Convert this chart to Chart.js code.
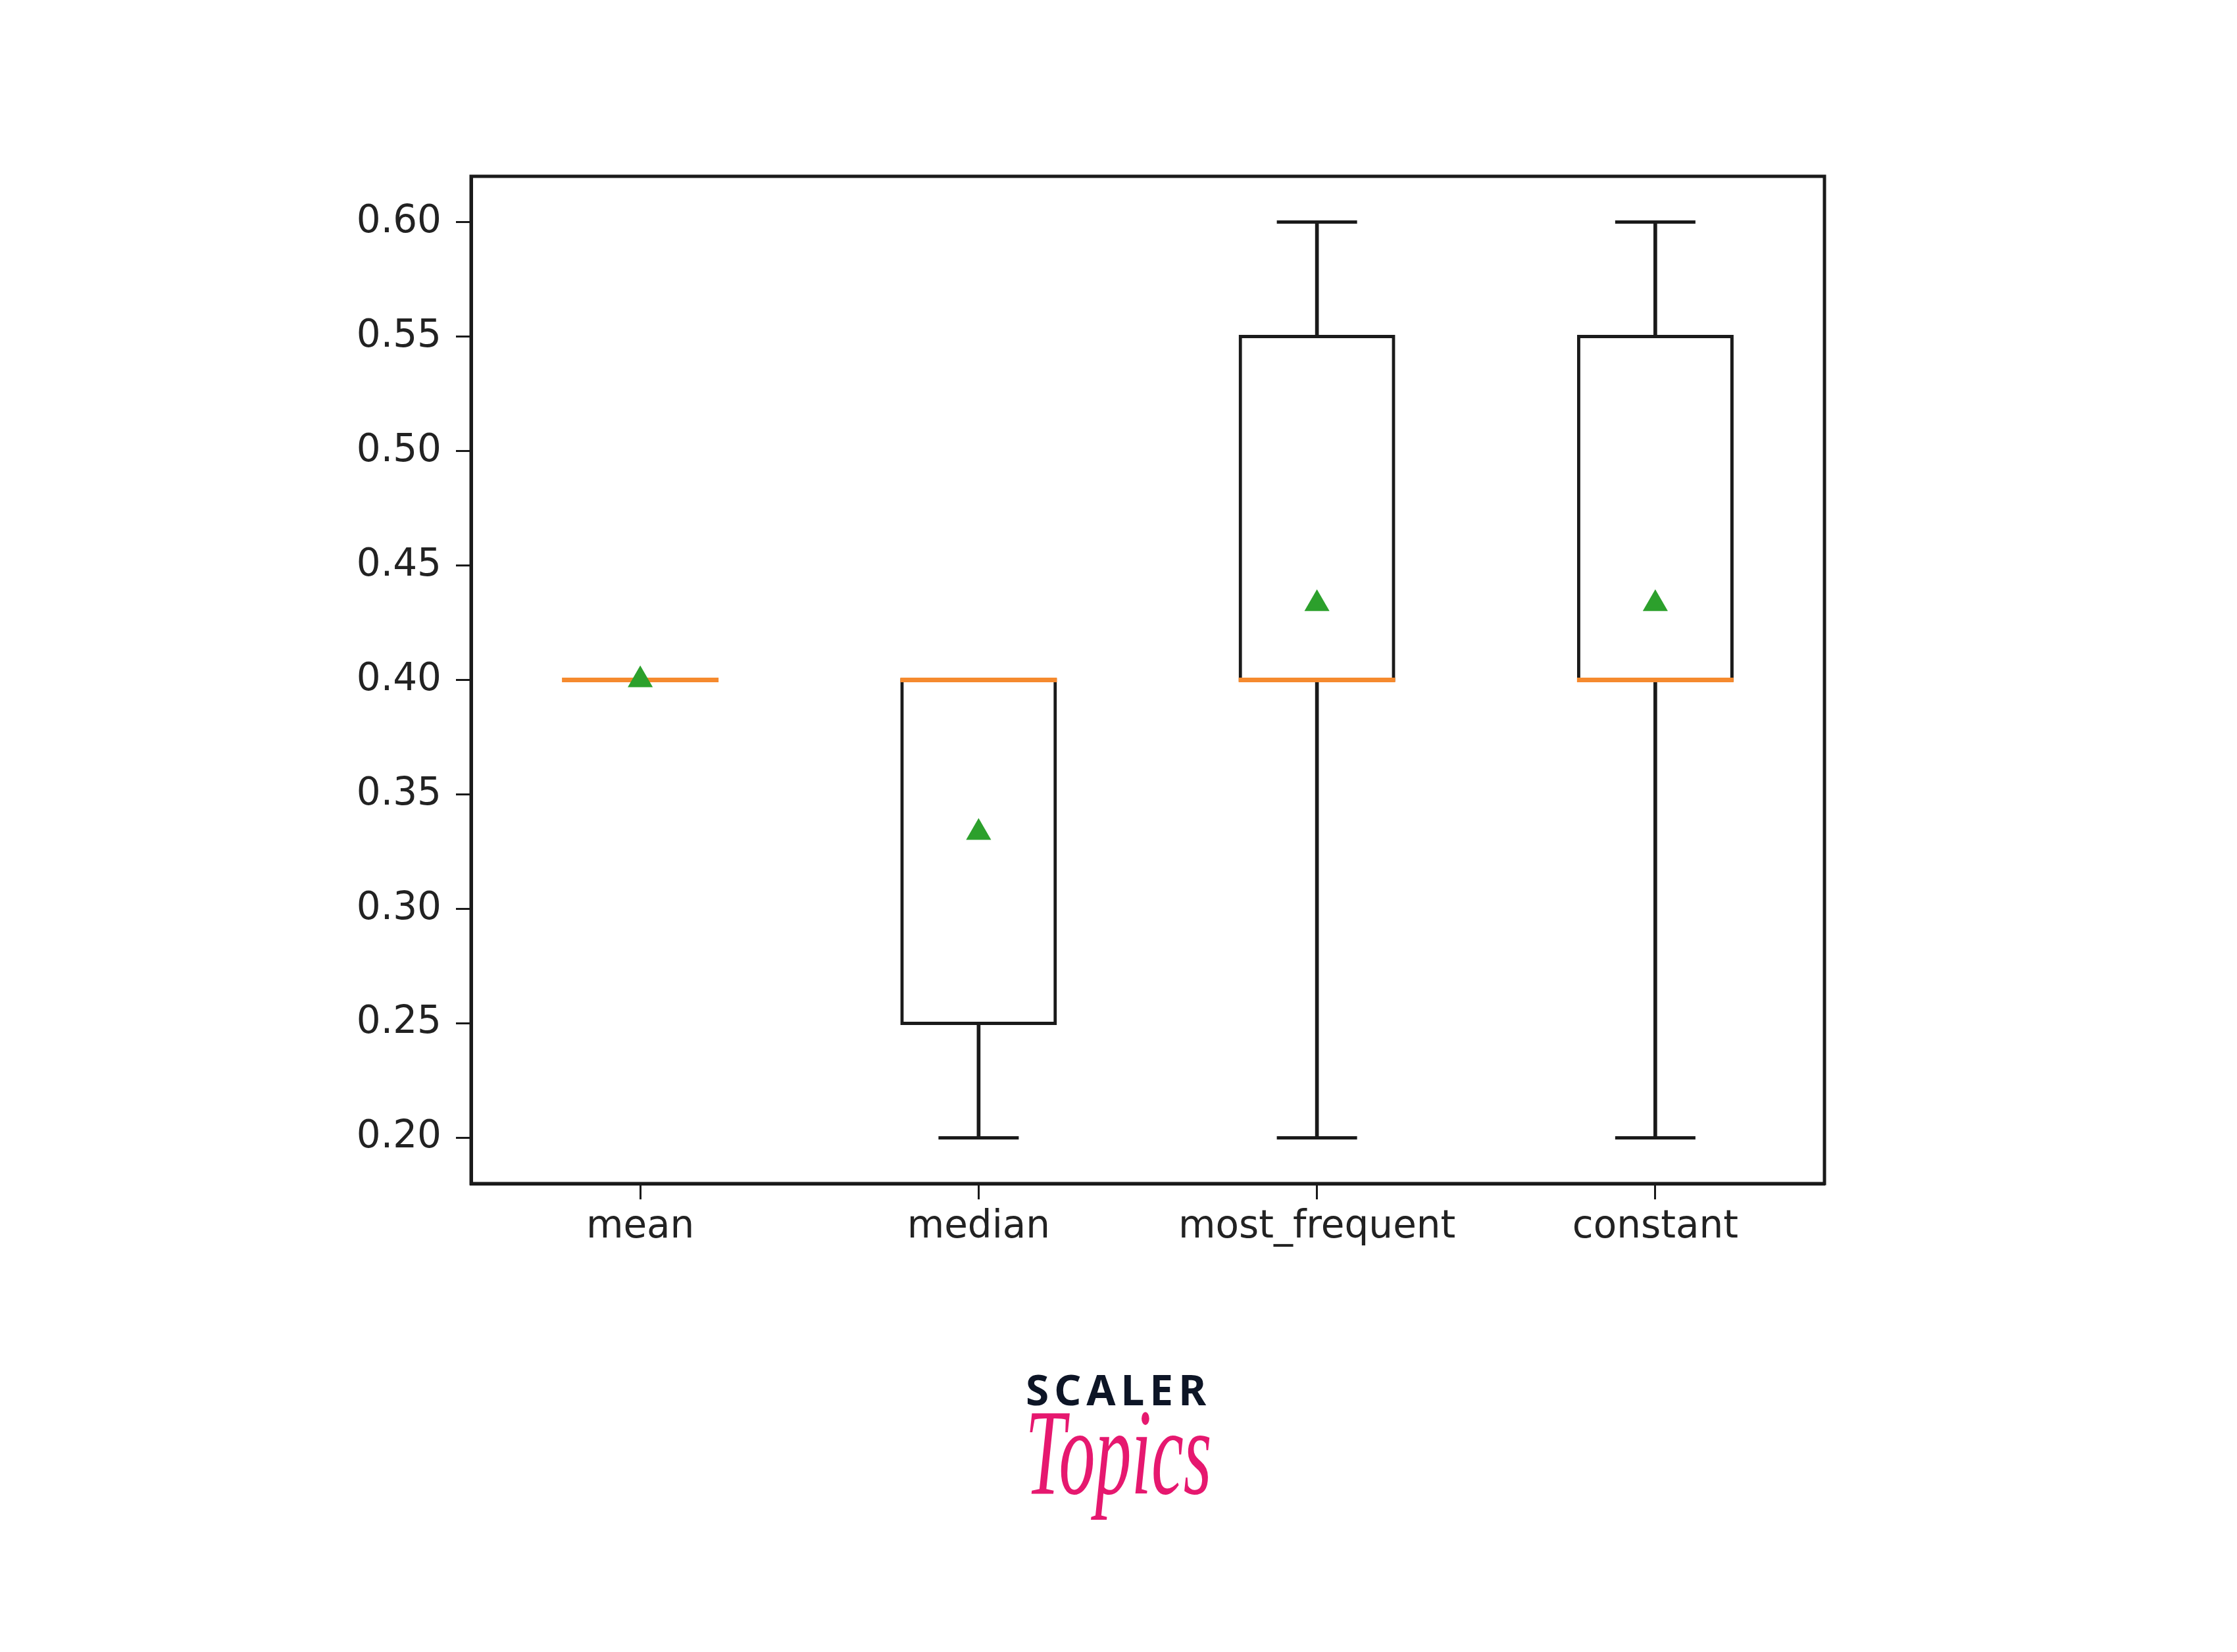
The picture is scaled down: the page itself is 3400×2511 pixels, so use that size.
<!DOCTYPE html>
<html>

<head>
    <title>Boxplot</title>
    <script src="https://cdn.jsdelivr.net/npm/chart.js@4/dist/chart.umd.min.js"></script>
    <style>
        body { margin: 0; background: #fff; }
        #wrap { position: relative; width: 3400px; height: 2511px; }
        .logo { position: absolute; left: 0; width: 3400px; text-align: center; }
        #scaler { top: 2080px; font: bold 64px/64px "Noto Sans"; letter-spacing: 8px; color: #0d1526; }
        #topics { top: 2178px; font: italic 110px/110px "Liberation Serif"; color: #e6186f;
                  transform: scale(1, 1.7); transform-origin: 50% 92px; }
    </style>
</head>

<body>
    <div id="wrap">
        <canvas id="ctx"></canvas>
        <div class="logo" id="scaler">SCALER</div>
        <div class="logo" id="topics">Topics</div>
    </div>

    <script>
        // box stats
        const labels  = ['mean', 'median', 'most_frequent', 'constant'];
        const whislo  = [0.40, 0.20, 0.20, 0.20];
        const q1      = [0.40, 0.25, 0.40, 0.40];
        const medians = [0.40, 0.40, 0.40, 0.40];
        const q3      = [0.40, 0.40, 0.55, 0.55];
        const whishi  = [0.40, 0.40, 0.60, 0.60];
        const means   = [0.40, 0.3333, 0.4333, 0.4333];
        const yTicks  = [0.20, 0.25, 0.30, 0.35, 0.40, 0.45, 0.50, 0.55, 0.60];

        const ink = '#1a1a1a';
        const lw = 5;
        const font = { family: 'DejaVu Sans', size: 58 };

        const boxes = labels.map((l, i) => q1[i] === q3[i] ? null : [q1[i], q3[i]]);
        const lowW = labels.map((l, i) => whislo[i] < q1[i] ? [whislo[i], q1[i]] : null);
        const highW = labels.map((l, i) => whishi[i] > q3[i] ? [q3[i], whishi[i]] : null);

        // top and right spines
        const frame = {
            id: 'frame',
            afterDraw(chart) {
                const a = chart.chartArea, c = chart.ctx;
                c.save();
                c.strokeStyle = ink;
                c.lineWidth = lw;
                c.strokeRect(a.left, a.top, a.right - a.left, a.bottom - a.top);
                c.restore();
            }
        };

        const ctx = document.getElementById('ctx');
        new Chart(ctx, {
            data: {
                labels: labels,
                datasets: [
                    { type: 'bar', data: lowW, grouped: false, barThickness: lw,
                      backgroundColor: ink, borderWidth: 0, order: 5 },
                    { type: 'bar', data: highW, grouped: false, barThickness: lw,
                      backgroundColor: ink, borderWidth: 0, order: 5 },
                    // inflate so the border sits centred on q1 / q3
                    { type: 'bar', data: boxes, grouped: false, barThickness: 233,
                      inflateAmount: lw / 2,
                      backgroundColor: '#fff', borderColor: ink, borderWidth: lw,
                      borderSkipped: false, order: 4 },
                    { type: 'line', data: whislo, showLine: false, pointStyle: 'line',
                      pointRadius: 61, pointBorderWidth: lw, pointBorderColor: ink, order: 3 },
                    { type: 'line', data: whishi, showLine: false, pointStyle: 'line',
                      pointRadius: 61, pointBorderWidth: lw, pointBorderColor: ink, order: 3 },
                    { type: 'line', data: medians, showLine: false, pointStyle: 'line',
                      pointRadius: 119, pointBorderWidth: 7, pointBorderColor: '#f58a2e', order: 2 },
                    { type: 'line', data: means, showLine: false, pointStyle: 'triangle',
                      pointRadius: 22, pointBorderWidth: 0, pointBackgroundColor: '#2ca02c', order: 1 }
                ]
            },
            options: {
                responsive: true,
                maintainAspectRatio: false,
                animation: false,
                events: [],
                layout: { padding: { top: 268, right: 627, bottom: 562, left: 0 } },
                plugins: { legend: { display: false }, tooltip: { enabled: false } },
                scales: {
                    x: {
                        type: 'category',
                        offset: true,
                        afterFit: s => { s.height = 150; },
                        grid: { offset: false, drawOnChartArea: false, tickLength: 24, tickWidth: 3, tickColor: ink },
                        border: { display: true, color: ink, width: lw },
                        ticks: { padding: 8, font: font, color: '#222', maxRotation: 0 }
                    },
                    y: {
                        min: 0.18,
                        max: 0.62,
                        afterFit: s => { s.width = 716; },
                        afterBuildTicks: s => { s.ticks = yTicks.map(v => ({ value: v })); },
                        grid: { drawOnChartArea: false, tickLength: 23, tickWidth: 3, tickColor: ink },
                        border: { display: true, color: ink, width: lw },
                        ticks: { padding: 22, font: font, color: '#222', callback: v => v.toFixed(2) }
                    }
                }
            },
            plugins: [frame]
        });
    </script>
</body>

</html>
